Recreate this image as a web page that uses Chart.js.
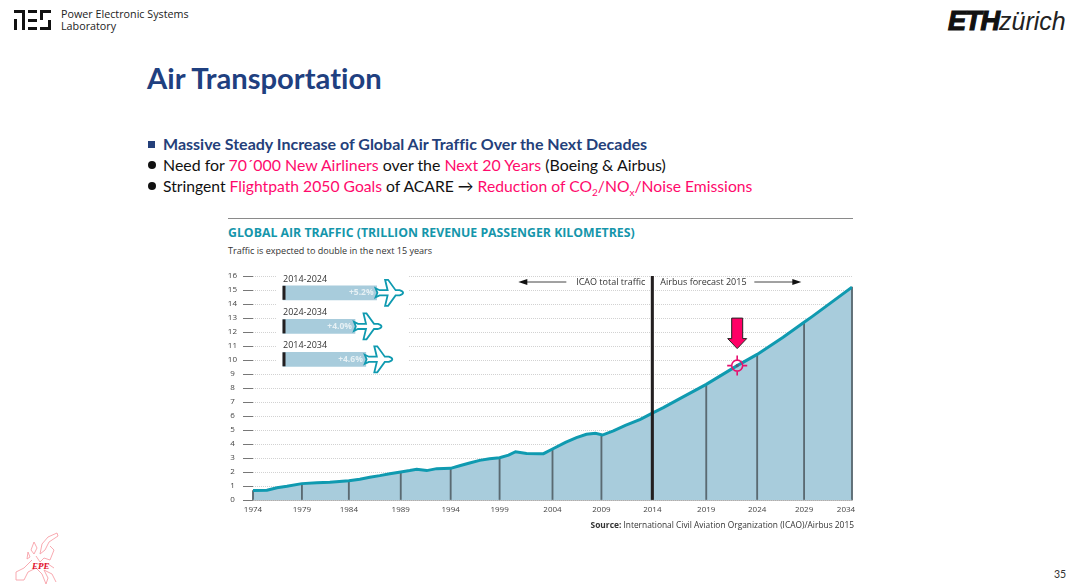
<!DOCTYPE html>
<html>
<head>
<meta charset="utf-8">
<title>Air Transportation</title>
<script src="https://cdn.jsdelivr.net/npm/chart.js@4"></script>
<style>
html, body { margin: 0; padding: 0; background: #fff; }
#slide { position: relative; width: 1080px; height: 588px; overflow: hidden; font-family: Lato, "Open Sans", sans-serif; font-variant-ligatures: none; }
#slide > div, #slide > svg, #slide > canvas { position: absolute; white-space: nowrap; }
#lab { left: 61px; top: 8px; font-size: 10.75px; line-height: 12px; color: #222; font-family: "Open Sans", sans-serif; }
#eth { left: 948px; top: 5px; font-size: 25px; line-height: 32px; font-family: "Liberation Sans", sans-serif; font-style: italic; color: #222; }
#eth b { font-size: 27px; font-weight: 700; color: #111; -webkit-text-stroke: 1.2px #111; letter-spacing: -1px; }
#heading { left: 147px; top: 60px; font-size: 29.2px; line-height: 36px; font-weight: 700; color: #1f4080; }
.line { left: 163px; line-height: 20px; color: #111; }
.line i { font-style: normal; color: #ff0a6c; }
.line sub { font-size: 10px; line-height: 0; }
#l1 { top: 134px; font-size: 16px; font-weight: 700; color: #24407a; }
#l2 { top: 155px; font-size: 15.9px; }
#l3 { top: 176px; font-size: 15.7px; }
.dot { left: 148px; width: 8px; height: 8px; border-radius: 50%; background: #111; }
#sq { left: 148px; top: 141px; width: 7px; height: 7px; background: #24407a; }
#rule { left: 228px; top: 218px; width: 625px; height: 1px; background: #8a8a8a; }
#ctitle { left: 228px; top: 225px; font-size: 12.3px; line-height: 16px; font-weight: 700; color: #1596ab; font-family: "Open Sans", sans-serif; }
#csub { left: 228px; top: 245px; font-size: 9.05px; line-height: 12px; color: #333; font-family: "Open Sans", sans-serif; }
#source { right: 226px; top: 519px; font-size: 8.4px; line-height: 12px; color: #333; font-family: "Open Sans", sans-serif; }
#page { left: 1054px; top: 568px; font-size: 10.5px; line-height: 12px; color: #333; }
#epe { left: 32px; top: 561px; font-size: 9px; line-height: 10px; font-weight: 700; font-style: italic; color: #e0102c; font-family: "Liberation Serif", serif; }
#chartCanvas { left: 220px; top: 260px; }
</style>
</head>
<body>
<div id="slide">
  <svg style="left:0;top:0" width="60" height="34" fill="#111">
    <rect x="14" y="10" width="11" height="3"/><rect x="22" y="10" width="3" height="20"/><rect x="14" y="19" width="3" height="11"/>
    <rect x="28" y="10" width="9" height="3"/><rect x="28" y="19" width="9" height="3"/><rect x="28" y="27" width="9" height="3"/>
    <rect x="40" y="10" width="11" height="3"/><rect x="40" y="10" width="3" height="10"/><rect x="48" y="20" width="3" height="10"/><rect x="40" y="27" width="11" height="3"/>
  </svg>
  <div id="lab">Power Electronic Systems<br>Laboratory</div>
  <div id="eth"><b>ETH</b>zürich</div>
  <div id="heading">Air Transportation</div>
  <div id="sq"></div>
  <div class="dot" style="top:161px"></div>
  <div class="dot" style="top:182px"></div>
  <div class="line" id="l1">Massive Steady Increase of Global Air Traffic Over the Next Decades</div>
  <div class="line" id="l2">Need for <i>70´000 New Airliners</i> over the <i>Next 20 Years</i> (Boeing &amp; Airbus)</div>
  <div class="line" id="l3">Stringent <i>Flightpath 2050 Goals</i> of ACARE → <i>Reduction of CO<sub>2</sub>/NO<sub>x</sub>/Noise Emissions</i></div>
  <div id="rule"></div>
  <div id="ctitle">GLOBAL AIR TRAFFIC (TRILLION REVENUE PASSENGER KILOMETRES)</div>
  <div id="csub">Traffic is expected to double in the next 15 years</div>
  <canvas id="chartCanvas" width="650" height="270" style="width:650px;height:270px"></canvas>
  <div id="source"><b>Source:</b> International Civil Aviation Organization (ICAO)/Airbus 2015</div>
  <svg style="left:12px;top:530px" width="52" height="56" fill="none" stroke="#f7a0a8" stroke-width="0.9">
    <path d="M45 3 L36 7 L30 14 L28 24 L33 20 L37 12 L46 6 Z"/>
    <path d="M38 16 L42 20 L38 30 L32 28 L28 32 L24 26"/>
    <path d="M22 12 L25 18 L22 24 L19 20 Z M16 22 L18 27 L15 29 Z"/>
    <path d="M20 30 L12 38 L4 42 L4 50 L12 50 L16 42 L24 38 L30 44 L34 54 L36 48 L32 40 L40 44 L44 52 M26 34 L36 34 L42 38"/>
  </svg>
  <div id="epe">EPE</div>
  <div id="page">35</div>
</div>
<script>
const curveYears = [1974, 1975.4, 1976.4, 1977.4, 1978.9, 1980.4, 1981.7, 1983.6, 1984.7, 1985.7, 1986.7, 1987.7, 1988.8, 1989.7, 1990.4, 1991.4, 1992.4, 1993.8, 1994.7, 1995.7, 1996.7, 1997.7, 1998.7, 1999.6, 2000.3, 2001.4, 2002.7, 2003.1, 2004, 2005.3, 2006.4, 2007.4, 2008.3, 2009, 2010.1, 2011.3, 2012.8, 2014, 2015.1, 2016.8, 2019.4, 2022.5, 2024.5, 2027.1, 2029.2, 2030, 2034];
const curveValues = [0.67, 0.7, 0.88, 0.98, 1.17, 1.24, 1.26, 1.38, 1.48, 1.62, 1.74, 1.88, 2.0, 2.1, 2.19, 2.1, 2.24, 2.26, 2.45, 2.64, 2.83, 2.95, 3.02, 3.2, 3.45, 3.33, 3.31, 3.31, 3.64, 4.12, 4.45, 4.69, 4.76, 4.64, 4.93, 5.33, 5.76, 6.21, 6.6, 7.26, 8.26, 9.6, 10.4, 11.62, 12.69, 13.1, 15.2];

// Axe x : les graduations de l'original ne sont pas regulieres
const tickPositions = [1974, 1978.9, 1983.6, 1988.8, 1993.8, 1998.7, 2004, 2008.9, 2014, 2019.4, 2024.5, 2029.2, 2034];
const tickLabels = ['1974', '1979', '1984', '1989', '1994', '1999', '2004', '2009', '2014', '2019', '2024', '2029', '2034'];
const dropValues = [0.67, 1.17, 1.38, 2.0, 2.26, 3.02, 3.64, 4.64, 6.21, 8.26, 10.4, 12.69, 15.2];

// Encadre des taux de croissance
const insetPeriods = ['2014-2024', '2024-2034', '2014-2034'];
const insetGrowth = [5.2, 4.0, 4.6];
const insetLevels = [14.8, 12.4, 10.05];

// Separation et point marque
const dividerYear = [2014];
const dividerTop = [16];
const markerYear = [2022.5];
const markerValue = [9.6];

const TEAL = '#0f9ab0';
const AREA = '#a8ccdc';
const FONT = '"Open Sans", sans-serif';

function drawPlane(ctx, x, y) {
    ctx.save();
    ctx.translate(x, y);
    ctx.beginPath();
    ctx.moveTo(0, -4.5);
    ctx.lineTo(4, -2.6);
    ctx.lineTo(12, -2.6);
    ctx.lineTo(9.5, -13);
    ctx.lineTo(12.5, -13);
    ctx.lineTo(20, -2.6);
    ctx.lineTo(24, -2.6);
    ctx.quadraticCurveTo(27.5, -1.5, 27.5, 0);
    ctx.quadraticCurveTo(27.5, 1.5, 24, 2.6);
    ctx.lineTo(20, 2.6);
    ctx.lineTo(12.5, 13);
    ctx.lineTo(9.5, 13);
    ctx.lineTo(12, 2.6);
    ctx.lineTo(4, 2.6);
    ctx.lineTo(0, 4.5);
    ctx.lineTo(1.8, 0);
    ctx.closePath();
    ctx.fillStyle = '#fff';
    ctx.fill();
    ctx.strokeStyle = TEAL;
    ctx.lineWidth = 1.8;
    ctx.stroke();
    ctx.restore();
}

function drawArrowLine(ctx, from, to, y) {
    const dir = Math.sign(to - from);
    ctx.strokeStyle = '#444';
    ctx.lineWidth = 1;
    ctx.beginPath();
    ctx.moveTo(from, y);
    ctx.lineTo(to - dir * 6, y);
    ctx.stroke();
    ctx.fillStyle = '#111';
    ctx.beginPath();
    ctx.moveTo(to, y);
    ctx.lineTo(to - dir * 9, y - 3);
    ctx.lineTo(to - dir * 9, y + 3);
    ctx.closePath();
    ctx.fill();
}

// Fond blanc de l'encadre, sous les barres
const insetBack = {
    id: 'insetBack',
    beforeDatasetsDraw(chart) {
        const ctx = chart.ctx;
        const gx = chart.scales.xg;
        ctx.save();
        ctx.fillStyle = '#fff';
        ctx.fillRect(gx.getPixelForValue(0) - 6, chart.chartArea.top - 4, 131, 98);
        ctx.restore();
    }
};

// Annotations par-dessus le graphique
const annotations = {
    id: 'annotations',
    beforeDraw(chart) {
        // dernier libelle decale vers la gauche comme sur l'original
        const items = chart.scales.x.getLabelItems(chart.chartArea);
        const last = items[items.length - 1];
        if (!last.shifted) {
            last.options.translation[0] -= 6;
            last.shifted = true;
        }
    },
    afterDatasetsDraw(chart) {
        const ctx = chart.ctx;
        const { x, y, xg } = chart.scales;
        ctx.save();

        insetPeriods.forEach((period, i) => {
            const left = xg.getPixelForValue(0);
            const right = xg.getPixelForValue(insetGrowth[i]);
            const mid = y.getPixelForValue(insetLevels[i]);
            ctx.fillStyle = '#231f20';
            ctx.fillRect(left - 0.5, mid - 7, 3, 14);
            ctx.textBaseline = 'middle';
            ctx.textAlign = 'left';
            ctx.fillStyle = '#333';
            ctx.font = '9px ' + FONT;
            ctx.fillText(period, left, mid - 13.5);
            drawPlane(ctx, right - 1, mid);
            ctx.textAlign = 'right';
            ctx.fillStyle = '#e6f0f4';
            ctx.font = 'bold 8.5px ' + FONT;
            ctx.fillText('+' + insetGrowth[i].toFixed(1) + '%', right - 3, mid);
        });

        const labelY = chart.chartArea.top + 6;
        const split = x.getPixelForValue(dividerYear[0]);
        ctx.fillStyle = '#333';
        ctx.font = '9px ' + FONT;
        ctx.textBaseline = 'middle';
        ctx.textAlign = 'right';
        ctx.fillText('ICAO total traffic', split - 7, labelY);
        ctx.textAlign = 'left';
        ctx.fillText('Airbus forecast 2015', split + 8, labelY);
        drawArrowLine(ctx, split - 86, split - 134, labelY);
        drawArrowLine(ctx, split + 102, split + 149, labelY);

        // cible et fleche sur le point marque
        const mx = x.getPixelForValue(markerYear[0]);
        const my = y.getPixelForValue(markerValue[0]);
        ctx.strokeStyle = '#e6106e';
        ctx.lineWidth = 1.6;
        ctx.beginPath();
        ctx.arc(mx, my, 5.5, 0, Math.PI * 2);
        ctx.moveTo(mx - 10, my); ctx.lineTo(mx - 5.5, my);
        ctx.moveTo(mx + 5.5, my); ctx.lineTo(mx + 10, my);
        ctx.moveTo(mx, my - 10); ctx.lineTo(mx, my - 5.5);
        ctx.moveTo(mx, my + 5.5); ctx.lineTo(mx, my + 10);
        ctx.stroke();
        ctx.fillStyle = '#5a5a78';
        ctx.beginPath();
        ctx.arc(mx, my, 1.6, 0, Math.PI * 2);
        ctx.fill();

        ctx.fillStyle = '#ff0066';
        ctx.strokeStyle = '#222';
        ctx.lineWidth = 1;
        ctx.beginPath();
        ctx.moveTo(mx - 5.5, my - 47.5);
        ctx.lineTo(mx + 5.5, my - 47.5);
        ctx.lineTo(mx + 5.5, my - 27);
        ctx.lineTo(mx + 9.5, my - 27);
        ctx.lineTo(mx, my - 17);
        ctx.lineTo(mx - 9.5, my - 27);
        ctx.lineTo(mx - 5.5, my - 27);
        ctx.closePath();
        ctx.fill();
        ctx.stroke();
        ctx.restore();
    }
};

const ctxTraffic = document.getElementById('chartCanvas').getContext('2d');
const curvePoints = curveYears.map((v, i) => ({ x: v, y: curveValues[i] }));

new Chart(ctxTraffic, {
    type: 'line',
    data: {
        datasets: [
            {
                type: 'bar',
                label: 'Divider',
                data: dividerYear.map((v, i) => ({ x: v, y: dividerTop[i] })),
                backgroundColor: '#231f20',
                barThickness: 2.4,
                grouped: false,
                order: 0
            },
            {
                label: 'Traffic',
                data: curvePoints,
                borderColor: TEAL,
                borderWidth: 3,
                fill: false,
                pointRadius: 0,
                tension: 0,
                order: 1
            },
            {
                type: 'bar',
                label: 'Drop lines',
                data: tickPositions.map((v, i) => ({ x: v, y: dropValues[i] })),
                backgroundColor: '#5a6a72',
                barThickness: 1.2,
                grouped: false,
                clip: false,
                order: 2
            },
            {
                label: 'Area',
                data: curvePoints,
                borderWidth: 0,
                backgroundColor: AREA,
                fill: 'origin',
                pointRadius: 0,
                tension: 0,
                order: 3
            },
            {
                type: 'bar',
                label: 'Growth',
                indexAxis: 'y',
                xAxisID: 'xg',
                yAxisID: 'y',
                data: insetGrowth.map((v, i) => ({ x: v, y: insetLevels[i] })),
                backgroundColor: AREA,
                barThickness: 14,
                grouped: false,
                order: 4
            }
        ]
    },
    options: {
        responsive: false,
        animation: false,
        layout: { padding: { top: 16, right: 18, left: 0, bottom: 0 } },
        plugins: { legend: { display: false }, tooltip: { enabled: false } },
        scales: {
            x: {
                type: 'linear',
                min: 1974,
                max: 2034,
                offset: false,
                afterBuildTicks: (scale) => { scale.ticks = tickPositions.map(v => ({ value: v })); },
                afterFit: (scale) => { scale.height = 30; },
                grid: { display: false, drawTicks: false, offset: false },
                border: { display: true, color: '#8a8a8a', width: 1.5 },
                ticks: {
                    autoSkip: false,
                    maxRotation: 0,
                    padding: 5,
                    color: '#444',
                    font: { family: FONT, size: 8 },
                    callback: (value, index) => tickLabels[index]
                }
            },
            // echelle de l'encadre : 18 px par point de croissance
            xg: {
                type: 'linear',
                display: false,
                min: -30 / 18,
                max: 569 / 18,
                offset: false,
                grid: { display: false }
            },
            y: {
                type: 'linear',
                min: 0,
                max: 16,
                offset: false,
                afterFit: (scale) => { scale.width = 33; },
                grid: { color: '#d2d2d2', tickColor: '#777', tickLength: 10, offset: false },
                border: { display: false, dash: [1, 1] },
                ticks: {
                    stepSize: 1,
                    padding: 6,
                    crossAlign: 'center',
                    color: '#444',
                    font: { family: FONT, size: 8 }
                }
            }
        }
    },
    plugins: [insetBack, annotations]
});
</script>
</body>
</html>
